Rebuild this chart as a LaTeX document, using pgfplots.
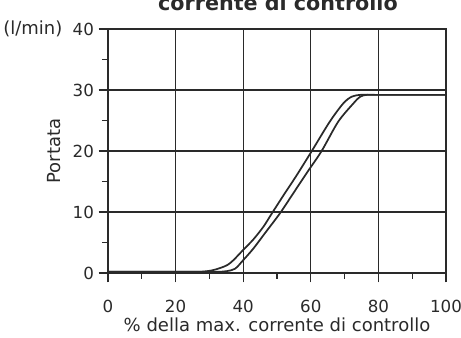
\documentclass[border=0pt]{standalone}
\usepackage{pgfplots}
\pgfplotsset{compat=1.18}
\usepackage{fontspec}
\setmainfont{DejaVu Sans}
\definecolor{ink}{HTML}{2A2A2A}
\begin{document}
\begin{tikzpicture}
\begin{axis}[
  at={(0,0)}, anchor=origin,
  scale only axis, width=253.5pt, height=183pt,
  xmin=0, xmax=100, ymin=0, ymax=40,
  xtick={0,20,40,60,80,100}, ytick={0,10,20,30,40},
  minor xtick={10,30,50,70,90}, minor ytick={5,15,25,35},
  tick align=outside, major tick length=7pt, minor tick length=4.5pt,
  xtick pos=bottom, ytick pos=left,
  grid=major,
  major grid style={ink, line width=0.8pt},
  axis line style={ink, line width=0.9pt},
  tick style={ink, line width=0.8pt},
  every tick label/.append style={font=\fontsize{12.5}{14}\selectfont, text=ink},
  /pgf/number format/assume math mode=true,
  xticklabel style={yshift=-10pt},
  yticklabel style={xshift=0pt},
  xlabel={\% della max. corrente di controllo},
  ylabel={Portata},
  xlabel style={font=\fontsize{13.5}{15}\selectfont, text=ink, yshift=3pt},
  ylabel style={font=\fontsize{13.5}{15}\selectfont, text=ink, yshift=2pt},
]
\addplot[ink, line width=1.3pt, smooth, tension=0.5] coordinates {
(0,0.2)(22,0.2)(27.2,0.2)(30.5,0.4)(33.1,0.8)(35.3,1.3)(37.1,2.1)(40.2,3.9)(43,5.5)(46,7.6)(48.4,9.7)(52,12.8)(55.8,16)(60.3,20)(65.6,24.8)(69.6,27.8)(72.1,28.9)(74.6,29.2)(78,29.2)(100,29.2)};
\addplot[ink, line width=1.3pt, smooth, tension=0.5] coordinates {
(0,0.2)(28,0.2)(32.5,0.2)(35.1,0.3)(37.6,0.7)(40,2.1)(43,4.0)(46.4,6.5)(50.9,9.8)(54.5,12.8)(58.8,16.4)(63.2,20)(68.1,24.8)(72.6,27.8)(74.6,28.9)(76.5,29.2)(80,29.2)(100,29.2)};
\end{axis}
\node[anchor=base west, inner sep=0pt, font=\fontsize{13.5}{15}\selectfont, text=ink] at (-78.75pt,179pt) {(l/min)};
\node[anchor=base, font=\fontsize{15.5}{18}\selectfont\bfseries, text=ink] at (127.5pt,196.5pt) {corrente di controllo};
\pgfresetboundingbox
\useasboundingbox (-81pt,-48.75pt) rectangle (264.75pt,204.75pt);
\end{tikzpicture}
\end{document}
